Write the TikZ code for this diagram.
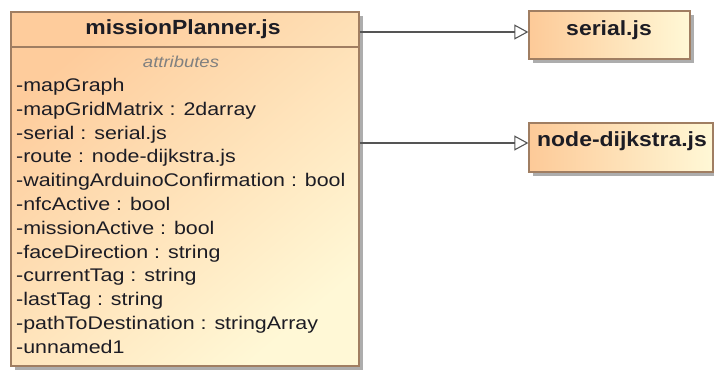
\documentclass[tikz,border=0pt]{standalone}
\usepackage{fontspec}
\setmainfont{Liberation Sans}
\newfontfamily\ttlfont[FakeStretch=1.12]{Liberation Sans}
\newfontfamily\bdyfont[FakeStretch=1.17]{Liberation Sans}
\usetikzlibrary{arrows.meta,shadows}
\definecolor{bord}{RGB}{160,126,98}
\definecolor{orng}{RGB}{253,202,152}
\definecolor{crem}{RGB}{255,248,214}
\definecolor{lnc}{RGB}{85,85,85}
\definecolor{txc}{RGB}{28,28,36}
\definecolor{grytxt}{RGB}{128,128,128}
\tikzset{
  cls/.style={draw=bord, line width=1.3pt, inner sep=0pt,
    drop shadow={shadow xshift=4pt, shadow yshift=-4pt, fill=black!32, opacity=1}},
  titletxt/.style={font=\ttlfont\bfseries\fontsize{20.5}{24}\selectfont, text=txc, inner sep=0pt},
  bodytxt/.style={font=\bdyfont\fontsize{18.3}{23.8}\selectfont, text=txc, inner sep=0pt},
  attrtxt/.style={font=\bdyfont\itshape\fontsize{15.8}{18}\selectfont, text=grytxt, inner sep=0pt},
  conn/.style={draw=lnc, line width=1.1pt, -{Triangle[open, length=14pt, width=15pt, line width=1.1pt]}}
}
\begin{document}
\begin{tikzpicture}[x=1pt,y=1pt]
\useasboundingbox (0,0) rectangle (714,-374);
\clip (0,0) rectangle (714,-374);
% main class
\node[cls, minimum width=348pt, minimum height=354pt,
      top color={rgb,255:red,254;green,204;blue,156}, bottom color={rgb,255:red,255;green,248;blue,214},
      shading angle=40] (mp) at (185,-189) {};
\draw[bord, line width=1.3pt] (mp.north west |- 0,-47) -- (mp.north east |- 0,-47);
\node[titletxt, anchor=base] (mpt) at (183,-35) {missionPlanner.js};
\node[attrtxt, anchor=base] (att) at (181,-67.5) {attributes};
\foreach \t [count=\i] in {-mapGraph,-mapGridMatrix : 2darray,-serial : serial.js,-route : node-dijkstra.js,-waitingArduinoConfirmation : bool,-nfcActive : bool,-missionActive : bool,-faceDirection : string,-currentTag : string,-lastTag : string,-pathToDestination : stringArray,-unnamed1}
  \node[bodytxt, anchor=base west] (a\i) at (16,{-91.5-23.8*(\i-1)}) {\t};
% serial.js
\node[cls, left color=orng, right color=crem, minimum width=161pt, minimum height=48pt] (ser) at (609.5,-35) {};
\node[titletxt, anchor=base] (sert) at (609,-36) {serial.js};
% node-dijkstra.js
\node[cls, left color=orng, right color=crem, minimum width=184pt, minimum height=49pt] (dij) at (621,-147.5) {};
\node[titletxt, anchor=base] (dijt) at (622,-146.7) {node-dijkstra.js};
% connectors
\draw[conn] (mp.east |- 0,-32) -- (ser.west |- 0,-32);
\draw[conn] (mp.east |- 0,-143) -- (dij.west |- 0,-143);
\end{tikzpicture}
\end{document}
